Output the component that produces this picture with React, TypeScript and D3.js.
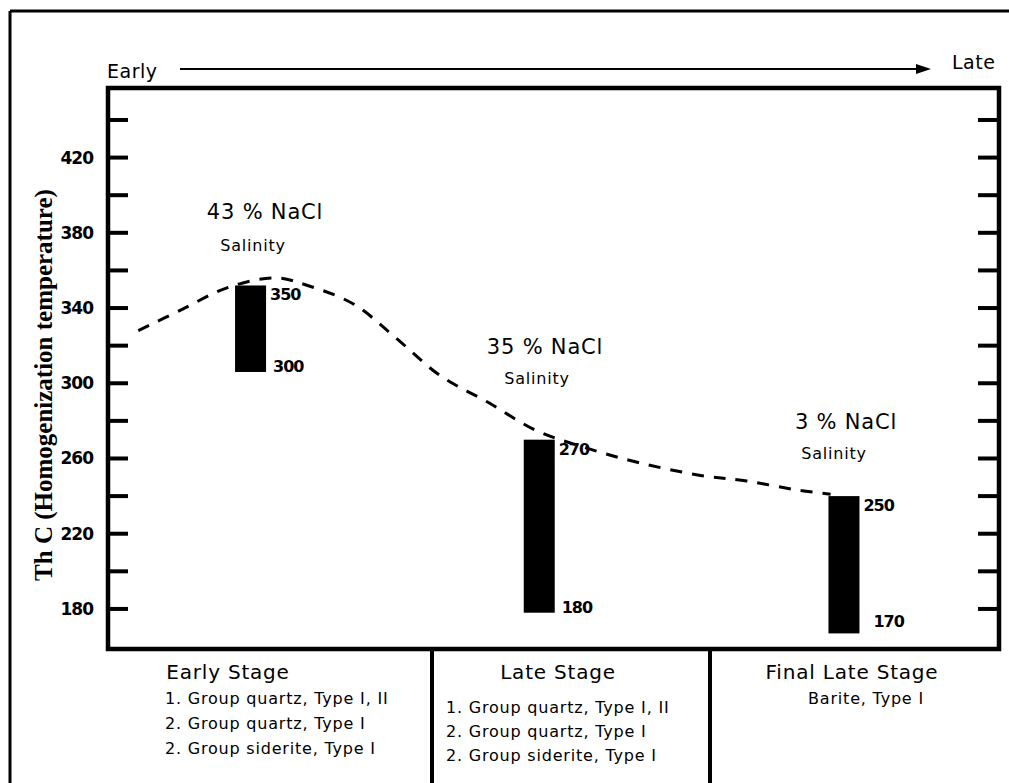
import React from 'react';
import * as d3 from 'd3';

// relative timeline position (0 = early, 100 = late) and Th (°C)
const curveTime = [3.4, 8.2, 13.5, 18.8, 22.4, 27.6, 32.1, 37.3, 42.6, 48.0, 53.4, 59.4, 66.5, 71.7, 77.7, 81.1];
const curveTemp = [328, 339, 351, 356, 352, 342, 325, 304, 290, 275, 266, 258, 251, 248, 243, 241];

const barTime = [16.0, 48.4, 82.6];
const barHigh = [352, 270, 240];
const barLow = [306, 178, 167];
const barHighLabel = ['350', '270', '250'];
const barLowLabel = ['300', '180', '170'];

const salinity = ['43 % NaCl', '35 % NaCl', '3 % NaCl'];

const yTicks = [180, 200, 220, 240, 260, 280, 300, 320, 340, 360, 380, 400, 420, 440];
const yLabels = [180, 220, 260, 300, 340, 380, 420];

const stageNames = ['Early Stage', 'Late Stage', 'Final Late Stage'];
const earlyItems = ['1. Group quartz, Type I, II', '2. Group quartz, Type I', '2. Group siderite, Type I'];
const lateItems = ['1. Group quartz, Type I, II', '2. Group quartz, Type I', '2. Group siderite, Type I'];
const finalItems = ['Barite, Type  I'];

const W = 1009;
const H = 783;
const left = 108;
const right = 999;
const top = 88;
const bottom = 649;
const div1 = 432;
const div2 = 710;

const sans = 'DejaVu Sans, sans-serif';

export default function App() {
  const x = d3.scaleLinear().domain([0, 100]).range([left, right]);
  const y = d3.scaleLinear().domain([158.7, 457]).range([bottom, top]);

  const line = d3
    .line<number>()
    .x((_, i) => x(curveTime[i]))
    .y((d) => y(d))
    .curve(d3.curveCatmullRom.alpha(0.5));

  const barW = 31;

  return (
    <svg
      width={W}
      height={H}
      style={{ position: 'absolute', left: 0, top: 0, background: '#fff' }}
    >
      {/* outer frame */}
      <line x1={10} y1={11} x2={W} y2={11} stroke="#000" strokeWidth={3} />
      <line x1={10} y1={11} x2={10} y2={H} stroke="#000" strokeWidth={3} />

      {/* time arrow */}
      <text x={107} y={78} fontFamily={sans} fontSize={19} letterSpacing={0.5} fill="#000">Early</text>
      <line x1={180} y1={69} x2={918} y2={69} stroke="#000" strokeWidth={2} />
      <polygon points="916,64 931,69 916,74" fill="#000" />
      <text x={952} y={69} fontFamily={sans} fontSize={19} letterSpacing={0.5} fill="#000">Late</text>

      {/* plot frame */}
      <rect
        x={left}
        y={top}
        width={right - left}
        height={bottom - top}
        fill="none"
        stroke="#000"
        strokeWidth={4.5}
      />

      {/* ticks */}
      {yTicks.map((t) => (
        <g key={t}>
          <line x1={left} x2={left + 20} y1={y(t)} y2={y(t)} stroke="#000" strokeWidth={4} />
          <line x1={right - 21} x2={right} y1={y(t)} y2={y(t)} stroke="#000" strokeWidth={4} />
        </g>
      ))}
      {yLabels.map((t) => (
        <text
          key={t}
          x={93}
          y={y(t) + 6}
          textAnchor="end"
          fontFamily={sans}
          fontWeight="bold"
          fontSize={17}
          letterSpacing={-1}
          fill="#000"
        >
          {t}
        </text>
      ))}

      {/* y title */}
      <text
        transform={`translate(52, ${385}) rotate(-90)`}
        textAnchor="middle"
        fontFamily="Liberation Serif, serif"
        fontWeight="bold"
        fontSize={25}
        fill="#000"
      >
        Th C (Homogenization temperature)
      </text>

      {/* dashed trend */}
      <path
        d={line(curveTemp) || ''}
        fill="none"
        stroke="#000"
        strokeWidth={3}
        strokeDasharray="12 10"
      />

      {/* bars */}
      {barTime.map((t, i) => (
        <g key={i}>
          <rect
            x={x(t) - barW / 2}
            y={y(barHigh[i])}
            width={barW}
            height={y(barLow[i]) - y(barHigh[i])}
            fill="#000"
          />
          <text
            x={x(t) + barW / 2 + 4}
            y={y(barHigh[i]) + 15}
            fontFamily={sans}
            fontWeight="bold"
            fontSize={16}
            letterSpacing={-1}
            fill="#000"
          >
            {barHighLabel[i]}
          </text>
          <text
            x={x(t) + barW / 2 + (i === 2 ? 14 : 7)}
            y={y(barLow[i]) + (i === 2 ? -6 : 0)}
            fontFamily={sans}
            fontWeight="bold"
            fontSize={16}
            letterSpacing={-1}
            fill="#000"
          >
            {barLowLabel[i]}
          </text>
        </g>
      ))}

      {/* salinity notes */}
      {salinity.map((s, i) => {
        const cx = [265, 545, 846][i];
        const cy = [219, 354, 429][i];
        return (
          <g key={s}>
            <text x={cx} y={cy} textAnchor="middle" fontFamily={sans} fontSize={21} letterSpacing={0.8} fill="#000">
              {s}
            </text>
            <text
              x={cx - [12, 8, 12][i]}
              y={cy + [32, 30, 30][i]}
              textAnchor="middle"
              fontFamily={sans}
              fontSize={16}
              letterSpacing={0.8}
              fill="#000"
            >
              Salinity
            </text>
          </g>
        );
      })}

      {/* stage panels */}
      <line x1={div1} y1={bottom} x2={div1} y2={H} stroke="#000" strokeWidth={4} />
      <line x1={div2} y1={bottom} x2={div2} y2={H} stroke="#000" strokeWidth={4} />

      <text x={228} y={679} textAnchor="middle" fontFamily={sans} fontSize={20} letterSpacing={0.8} fill="#000">
        {stageNames[0]}
      </text>
      {earlyItems.map((s, i) => (
        <text key={i} x={165} y={704 + i * 25} fontFamily={sans} fontSize={16} letterSpacing={0.8} fill="#000">
          {s}
        </text>
      ))}

      <text x={558} y={679} textAnchor="middle" fontFamily={sans} fontSize={20} letterSpacing={0.8} fill="#000">
        {stageNames[1]}
      </text>
      {lateItems.map((s, i) => (
        <text key={i} x={446} y={713 + i * 24} fontFamily={sans} fontSize={16} letterSpacing={0.8} fill="#000">
          {s}
        </text>
      ))}

      <text x={852} y={679} textAnchor="middle" fontFamily={sans} fontSize={20} letterSpacing={0.8} fill="#000">
        {stageNames[2]}
      </text>
      {finalItems.map((s, i) => (
        <text key={i} x={866} y={704 + i * 24} textAnchor="middle" fontFamily={sans} fontSize={16} letterSpacing={0.8} fill="#000">
          {s}
        </text>
      ))}
    </svg>
  );
}
